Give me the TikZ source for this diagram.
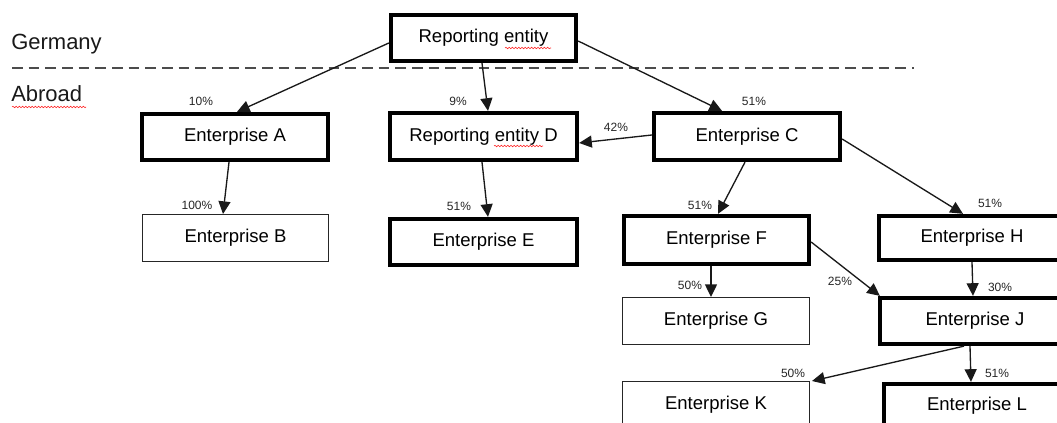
\documentclass[tikz,border=0pt]{standalone}
\usepackage{fontspec}
\setmainfont{Liberation Sans}
\usetikzlibrary{arrows.meta,calc,decorations.pathmorphing}
\newdimen\pxu \pxu=0.75pt
\begin{document}
\begin{tikzpicture}[x=0.75pt,y=-0.75pt,
  entbox/.style={draw=black,line width=3.2pt,inner sep=0pt,font=\fontsize{13.9}{16}\selectfont},
  plainbox/.style={draw=black!85,line width=1.1pt,inner sep=0pt,font=\fontsize{13.9}{16}\selectfont},
  conn/.style={line width=1pt,draw=black!90,-{Triangle[length=9.5pt,width=9pt]}},
  pct/.style={font=\fontsize{9}{10}\selectfont,inner sep=0pt,text=black!85},
  region/.style={font=\fontsize{16.5}{18}\selectfont,inner sep=0pt,anchor=base west,text=black!90},
  squig/.style={red!85,line width=0.45pt,decorate,decoration={snake,amplitude=0.55pt,segment length=2.4pt}},
  border/.style={draw=black!70,line width=1.3pt,dash pattern=on 8pt off 4.5pt}]
\useasboundingbox (0,0) rectangle (1057,423);
\clip (0,0) rectangle (1057,423);

% regions
\node[region] (ger) at (11,50) {Germany};
\node[region] (abr) at (11,102) {Abroad};
\coordinate (dl) at (12,68);
\coordinate (dr) at (914,68);
\draw[border] (dl) -- (dr);

% boxes
\node[entbox,minimum width=185\pxu,minimum height=46\pxu] (RE) at (483.5,38) {Reporting entity};
\node[entbox,minimum width=186\pxu,minimum height=46\pxu] (A) at (235,137) {Enterprise A};
\node[entbox,minimum width=187\pxu,minimum height=47\pxu] (D) at (483.5,136.5) {Reporting entity D};
\node[entbox,minimum width=186\pxu,minimum height=47\pxu] (C) at (747,136.5) {Enterprise C};
\node[plainbox,minimum width=185.5\pxu,minimum height=46.5\pxu] (B) at (235.5,238) {Enterprise B};
\node[entbox,minimum width=187\pxu,minimum height=46\pxu] (E) at (483.5,242) {Enterprise E};
\node[entbox,minimum width=185\pxu,minimum height=48\pxu] (F) at (716.5,240) {Enterprise F};
\node[entbox,minimum width=186\pxu,minimum height=44\pxu] (H) at (972,238) {Enterprise H};
\node[plainbox,minimum width=186.5\pxu,minimum height=46.5\pxu] (G) at (716,321) {Enterprise G};
\node[entbox,minimum width=190\pxu,minimum height=46\pxu] (J) at (975,321) {Enterprise J};
\node[plainbox,minimum width=186.5\pxu,minimum height=46.5\pxu] (K) at (716,405) {Enterprise K};
\node[entbox,minimum width=186\pxu,minimum height=44\pxu] (L) at (977,406) {Enterprise L};

% spell-check squiggles
\draw[squig] (12,107) -- (86,107);
\draw[squig] (505,48) -- (551,48);
\draw[squig] (494,146) -- (543,146);

% connectors
\draw[conn] ($(RE.west)+(0,5)$) -- ($(A.north)+(2,0)$);
\draw[conn] ($(RE.south)+(-1.5,0)$) -- ($(D.north)+(4.5,0)$);
\draw[conn] ($(RE.east)+(0,3)$) -- ($(C.north)+(-25,0)$);
\draw[conn] ($(C.west)+(0,-1.5)$) -- ($(D.east)+(0,6.5)$);
\draw[conn] ($(A.south)+(-6,0)$) -- ($(B.north)+(-12.5,0)$);
\draw[conn] ($(D.south)+(-1.5,0)$) -- ($(E.north)+(4.5,0)$);
\draw[conn] ($(C.south)+(-2,0)$) -- ($(F.north)+(1.5,0)$);
\draw[conn] ($(C.east)+(0,2.5)$) -- ($(H.north)+(-9,0)$);
\draw[conn] ($(F.south)+(-5.5,0)$) -- ($(G.north)+(-5,0)$);
\draw[conn] ($(F.east)+(0,2)$) -- ($(J.north west)+(2,0)$);
\draw[conn] (H.south) -- ($(J.north)+(-2,0)$);
\draw[conn] ($(J.south)+(-11,0)$) -- ($(K.north east)+(2,0)$);
\draw[conn] ($(J.south)+(-5,0)$) -- ($(L.north)+(-6,0)$);

% percentages
\node[pct] (p1) at (201,101) {10\%};
\node[pct] (p2) at (458,101) {9\%};
\node[pct] (p3) at (754,101) {51\%};
\node[pct] (p4) at (616,127) {42\%};
\node[pct] (p5) at (197,205) {100\%};
\node[pct] (p6) at (459,206) {51\%};
\node[pct] (p7) at (700,205) {51\%};
\node[pct] (p8) at (990,203) {51\%};
\node[pct] (p9) at (690,285) {50\%};
\node[pct] (p10) at (840,281) {25\%};
\node[pct] (p11) at (1000,287) {30\%};
\node[pct] (p12) at (793,373) {50\%};
\node[pct] (p13) at (997,373) {51\%};
\end{tikzpicture}
\end{document}
